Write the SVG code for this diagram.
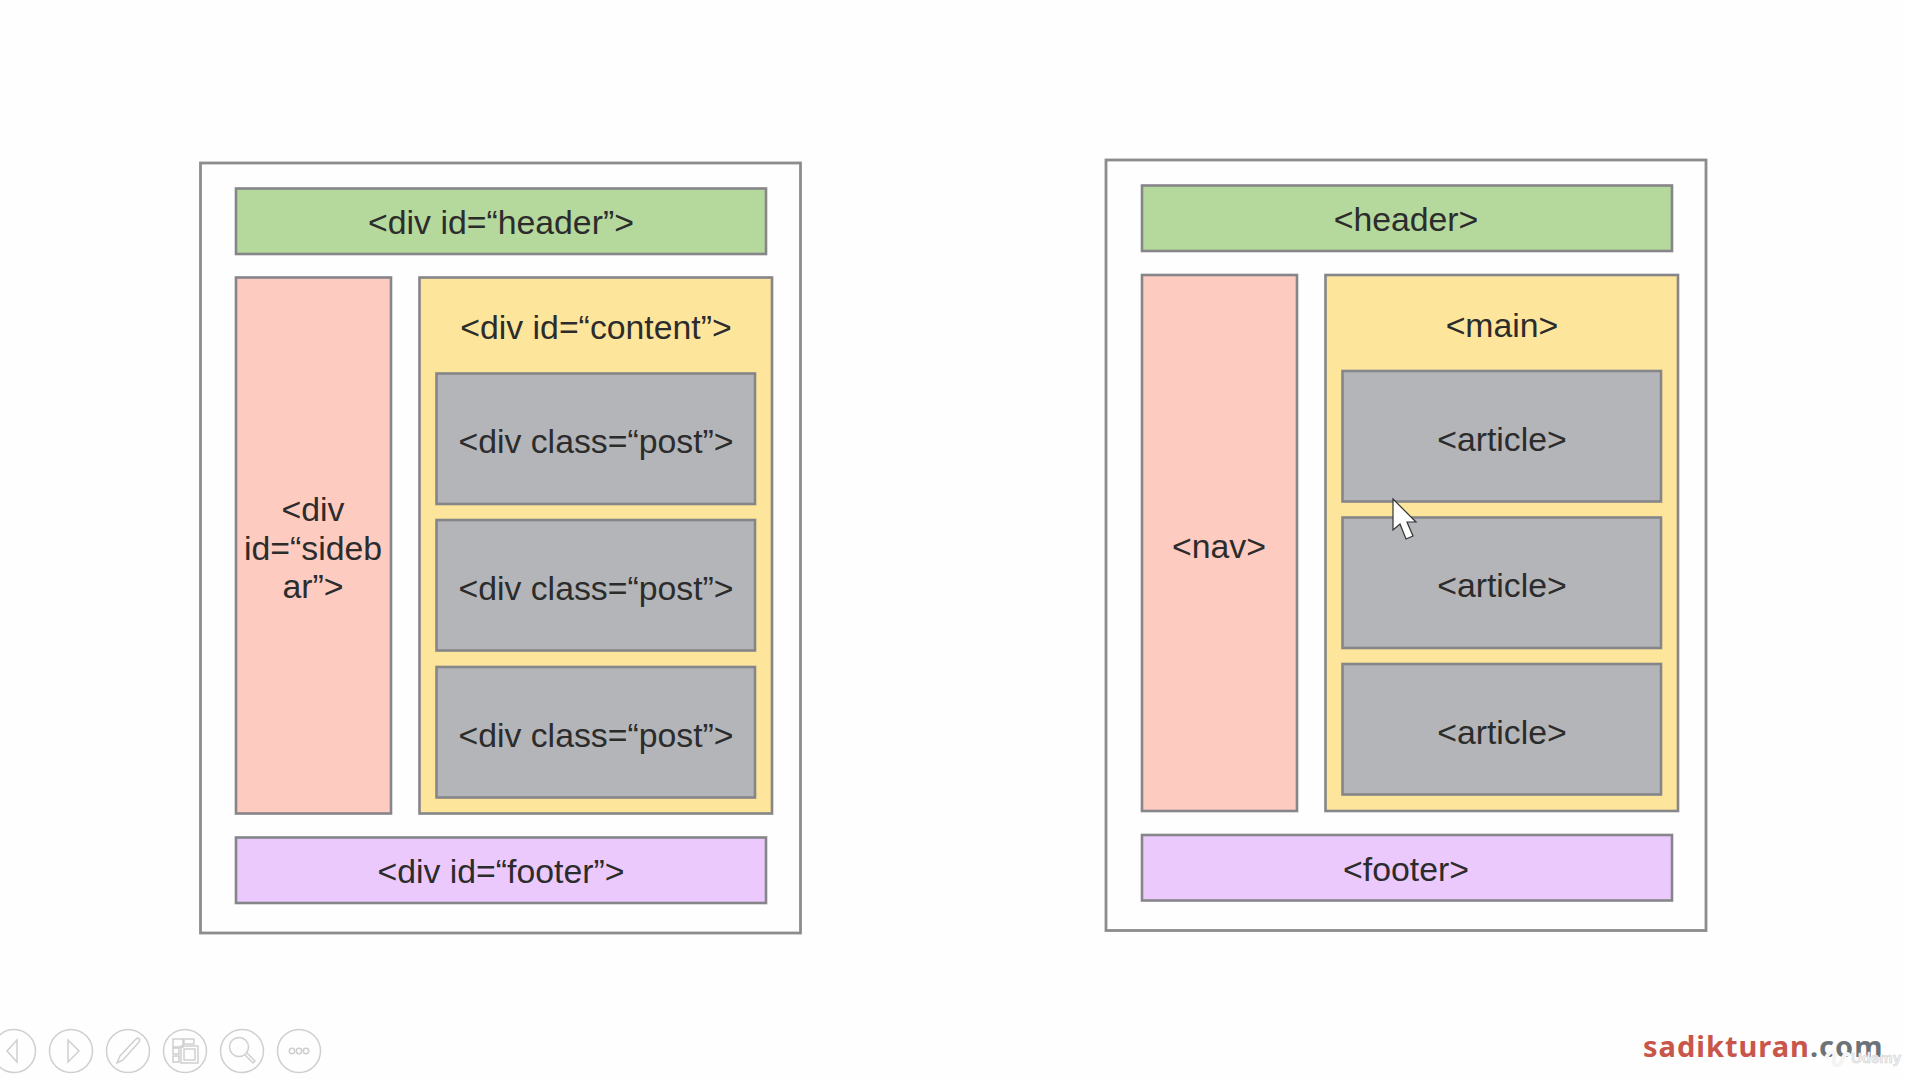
<svg xmlns="http://www.w3.org/2000/svg" width="1905" height="1079" viewBox="0 0 1905 1079">
<style>
.box{stroke:#85858a;stroke-width:2.6}
.outer{fill:#fefefe;stroke:#8c8c8e;stroke-width:2.8}
.green{fill:#b5d89d}
.red{fill:#fecbc1}
.yellow{fill:#fee59c}
.gray{fill:#b4b5b9}
.purple{fill:#ebc9fc}
text{font-family:"Liberation Sans",Arial,sans-serif;font-size:33.8px;text-anchor:middle;fill:#2c2c2c}
.ic{fill:none;stroke:#cfcfcf;stroke-width:1.5}
.brand{font-family:"Noto Sans","Open Sans",sans-serif;font-weight:700;font-size:29px;letter-spacing:1px;text-anchor:start}
</style>
<rect width="1905" height="1079" fill="#fefefe"/>
<g id="layout-div">
<rect class="outer" x="200.5" y="163" width="600" height="770"/>
<g id="div-header"><rect class="box green" x="236" y="188.5" width="530" height="65.5"/><text x="501" y="234">&lt;div id=“header”&gt;</text></g>
<g id="div-sidebar"><rect class="box red" x="236" y="277.5" width="155" height="536"/><text x="313" y="521">&lt;div</text><text x="313" y="560">id=“sideb</text><text x="313" y="598">ar”&gt;</text></g>
<g id="div-content"><rect class="box yellow" x="419.5" y="277.5" width="352.5" height="536"/><text x="596" y="339">&lt;div id=“content”&gt;</text></g>
<g id="div-post-1"><rect class="box gray" x="436.5" y="373.5" width="318.5" height="130.5"/><text x="596" y="453">&lt;div class=“post”&gt;</text></g>
<g id="div-post-2"><rect class="box gray" x="436.5" y="520" width="318.5" height="130.5"/><text x="596" y="600">&lt;div class=“post”&gt;</text></g>
<g id="div-post-3"><rect class="box gray" x="436.5" y="667" width="318.5" height="130.5"/><text x="596" y="746.5">&lt;div class=“post”&gt;</text></g>
<g id="div-footer"><rect class="box purple" x="236" y="837.5" width="530" height="65.5"/><text x="501" y="883">&lt;div id=“footer”&gt;</text></g>
</g>
<g id="layout-semantic">
<rect class="outer" x="1106" y="160" width="600" height="770.5"/>
<g id="header"><rect class="box green" x="1142" y="185.5" width="530" height="65.5"/><text x="1406" y="231">&lt;header&gt;</text></g>
<g id="nav"><rect class="box red" x="1142" y="275" width="155" height="536"/><text x="1219" y="557.5">&lt;nav&gt;</text></g>
<g id="main"><rect class="box yellow" x="1325.5" y="275" width="352.5" height="536"/><text x="1502" y="336.5">&lt;main&gt;</text></g>
<g id="article-1"><rect class="box gray" x="1342.5" y="371" width="318.5" height="130.5"/><text x="1502" y="450.5">&lt;article&gt;</text></g>
<g id="article-2"><rect class="box gray" x="1342.5" y="517.5" width="318.5" height="130.5"/><text x="1502" y="597">&lt;article&gt;</text></g>
<g id="article-3"><rect class="box gray" x="1342.5" y="664" width="318.5" height="130.5"/><text x="1502" y="743.5">&lt;article&gt;</text></g>
<g id="footer"><rect class="box purple" x="1142" y="835" width="530" height="65.5"/><text x="1406" y="881">&lt;footer&gt;</text></g>
</g>
<g id="cursor"><path d="M1393 499V530L1400 524L1406 539L1413 536L1407 522L1416 522Z" fill="#fff" stroke="#333" stroke-width="1.2"/></g>
<g id="toolbar">
<g id="btn-prev"><circle class="ic" cx="14" cy="1051" r="21.5"/><path class="ic" d="M17 1040V1062L7 1051Z"/></g>
<g id="btn-next"><circle class="ic" cx="71" cy="1051" r="21.5"/><path class="ic" d="M68 1040V1062L79 1051Z"/></g>
<g id="btn-pen"><circle class="ic" cx="128" cy="1051" r="21.5"/><path class="ic" d="M117 1063L120 1056L136 1039C138 1037 141 1039 139 1042L123 1060Z"/></g>
<g id="btn-slides"><circle class="ic" cx="185" cy="1051" r="21.5"/><path class="ic" d="M173 1039H183V1047H173ZM184 1039H194V1044H184ZM173 1048H179V1054H173ZM173 1056H179V1062H173ZM181 1046H198V1063H181ZM184 1049H195V1060H184Z"/></g>
<g id="btn-zoom"><circle class="ic" cx="242" cy="1051" r="21.5"/><circle class="ic" cx="239" cy="1047" r="9.5"/><path class="ic" d="M245 1055L253 1063L255 1061L247 1053"/></g>
<g id="btn-more"><circle class="ic" cx="299" cy="1051" r="21.5"/><circle class="ic" cx="292" cy="1051" r="2.7"/><circle class="ic" cx="299" cy="1051" r="2.7"/><circle class="ic" cx="306" cy="1051" r="2.7"/></g>
</g>
<g id="watermark">
<text class="brand" x="1643" y="1057" style="fill:#c9564a">sadikturan<tspan style="fill:#6c7378">.com</tspan></text>
<path d="M1826 1058C1830 1050 1836 1050 1834 1058C1832 1068 1840 1068 1843 1058C1845 1053 1849 1053 1849 1056" fill="none" stroke="#f4f4f4" stroke-width="4"/>
<text x="1876" y="1063" style="font-size:15px;font-weight:700;fill:#f0f0f0;stroke:#cfcfcf;stroke-width:.5">Udemy</text>
</g>
</svg>
